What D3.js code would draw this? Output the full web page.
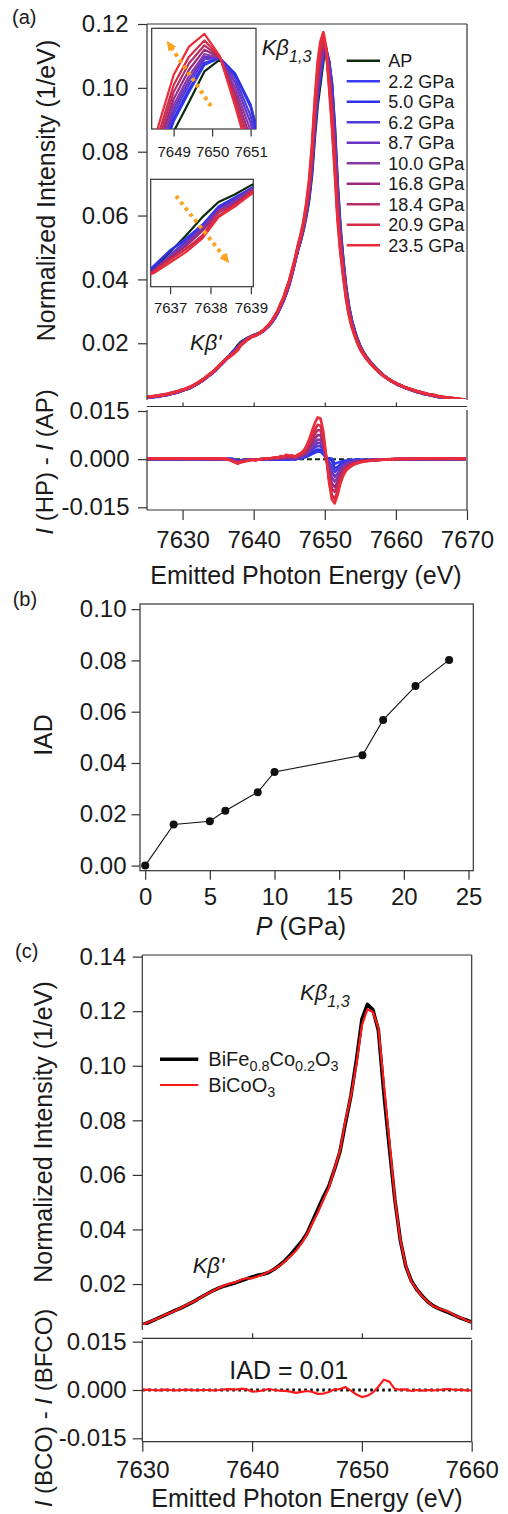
<!DOCTYPE html>
<html>
<head>
<meta charset="utf-8">
<script src="https://cdn.jsdelivr.net/npm/d3@7"></script>
<style>
  body { margin: 0; background: #fff; }
  svg { display: block; }
</style>
</head>
<body>
<script>
// ---------- (a) Co Kβ emission spectra under pressure ----------
const energyA = [
  7625.0,7625.4,7625.8,7626.2,7626.6,7627.0,7627.4,7627.8,7628.2,7628.6,
  7629.0,7629.4,7629.8,7630.2,7630.6,7631.0,7631.4,7631.8,7632.2,7632.6,
  7633.0,7633.4,7633.8,7634.2,7634.6,7635.0,7635.4,7635.8,7636.2,7636.6,
  7637.0,7637.4,7637.8,7638.2,7638.6,7639.0,7639.4,7639.8,7640.2,7640.6,
  7641.0,7641.4,7641.8,7642.2,7642.6,7643.0,7643.4,7643.8,7644.2,7644.6,
  7645.0,7645.4,7645.8,7646.2,7646.6,7647.0,7647.4,7647.8,7648.2,7648.6,
  7649.0,7649.4,7649.8,7650.2,7650.6,7651.0,7651.4,7651.8,7652.2,7652.6,
  7653.0,7653.4,7653.8,7654.2,7654.6,7655.0,7655.4,7655.8,7656.2,7656.6,
  7657.0,7657.4,7657.8,7658.2,7658.6,7659.0,7659.4,7659.8,7660.2,7660.6,
  7661.0,7661.4,7661.8,7662.2,7662.6,7663.0,7663.4,7663.8,7664.2,7664.6,
  7665.0,7665.4,7665.8,7666.2,7666.6,7667.0,7667.4,7667.8,7668.2,7668.6,
  7669.0,7669.4,7669.8
];

// ambient-pressure spectrum (1/eV)
const intensityAP = [
  0.0030,0.0031,0.0032,0.0033,0.0034,0.0036,0.0037,0.0039,0.0041,0.0043,
  0.0046,0.0048,0.0051,0.0054,0.0057,0.0061,0.0065,0.0070,0.0075,0.0081,
  0.0087,0.0094,0.0101,0.0108,0.0116,0.0125,0.0134,0.0143,0.0152,0.0160,
  0.0171,0.0182,0.0194,0.0204,0.0209,0.0215,0.0219,0.0223,0.0227,0.0230,
  0.0235,0.0240,0.0248,0.0257,0.0268,0.0281,0.0297,0.0315,0.0335,0.0358,
  0.0385,0.0418,0.0455,0.0490,0.0520,0.0555,0.0598,0.0650,0.0730,0.0850,
  0.0950,0.1018,0.1088,0.1115,0.1080,0.1010,0.0880,0.0700,0.0560,0.0460,
  0.0375,0.0315,0.0272,0.0240,0.0213,0.0190,0.0174,0.0160,0.0148,0.0137,
  0.0127,0.0118,0.0109,0.0101,0.0094,0.0088,0.0082,0.0077,0.0072,0.0068,
  0.0064,0.0060,0.0057,0.0054,0.0051,0.0048,0.0046,0.0043,0.0041,0.0039,
  0.0037,0.0035,0.0033,0.0032,0.0030,0.0029,0.0028,0.0027,0.0026,0.0025,
  0.0024,0.0023,0.0022
];

// I(HP) - I(AP) for each pressure, same energy grid
const dI_2_2 = [
  0.0000,-0.0001,-0.0001,0.0000,-0.0002,-0.0001,0.0000,-0.0001,-0.0001,0.0000,
  -0.0002,-0.0001,-0.0001,0.0000,-0.0001,-0.0002,-0.0001,0.0000,-0.0001,-0.0001,
  -0.0002,0.0000,-0.0001,-0.0002,-0.0001,-0.0001,-0.0002,-0.0001,
  0.0000,0.0002,0.0001,-0.0002,-0.0005,-0.0003,-0.0002,-0.0002,-0.0001,-0.0001,
  -0.0001,-0.0002,-0.0002,-0.0001,-0.0001,-0.0002,-0.0001,-0.0002,-0.0002,-0.0001,-0.0002,-0.0001,-0.0002,
  0.0000,-0.0002,0.0001,0.0002,0.0004,0.0007,0.0011,0.0016,0.0020,0.0023,0.0023,0.0015,0.0004,
  0.0003,0.0002,-0.0014,-0.0011,-0.0008,-0.0005,-0.0004,-0.0003,-0.0002,-0.0002,-0.0001,-0.0001,
  -0.0003,-0.0004,-0.0003,-0.0003,-0.0002,-0.0003,-0.0002,-0.0002,-0.0001,-0.0002,
  -0.0001,-0.0001,-0.0002,-0.0001,0.0000,-0.0001,-0.0001,0.0000,-0.0001,-0.0001,
  0.0000,-0.0001,0.0000,-0.0001,0.0000,0.0000,-0.0001,0.0000,0.0000,-0.0001,
  0.0000,0.0000,0.0000,-0.0001,0.0000,0.0000,0.0000
];
const dI_5_0 = [
  -0.0001,0.0000,-0.0001,0.0000,0.0000,-0.0001,0.0000,-0.0001,0.0000,0.0000,
  -0.0001,-0.0001,0.0000,0.0000,-0.0001,0.0000,-0.0001,0.0000,-0.0001,0.0000,
  0.0000,-0.0001,0.0000,-0.0001,-0.0002,-0.0001,0.0000,-0.0001,
  0.0000,0.0001,0.0001,-0.0003,-0.0006,-0.0004,-0.0003,-0.0002,-0.0001,-0.0001,
  -0.0001,-0.0001,-0.0002,-0.0001,0.0000,-0.0001,0.0000,0.0000,-0.0001,0.0001,0.0000,0.0001,0.0000,
  0.0001,0.0000,0.0002,0.0003,0.0006,0.0009,0.0014,0.0020,0.0026,0.0030,0.0029,0.0020,0.0004,
  0.0001,-0.0004,-0.0029,-0.0024,-0.0016,-0.0011,-0.0008,-0.0006,-0.0004,-0.0003,-0.0003,-0.0002,
  -0.0003,-0.0003,-0.0003,-0.0002,-0.0002,-0.0002,-0.0001,-0.0002,-0.0001,-0.0001,
  -0.0001,0.0000,-0.0001,0.0000,-0.0001,0.0000,0.0000,-0.0001,0.0000,0.0000,
  -0.0001,0.0000,0.0000,0.0000,-0.0001,0.0000,0.0000,-0.0001,0.0000,0.0000,
  0.0000,-0.0001,0.0000,0.0000,0.0000,0.0000,0.0000
];
const dI_6_2 = [
  0.0000,-0.0001,0.0000,0.0000,0.0001,0.0000,-0.0001,0.0000,0.0000,0.0000,
  -0.0001,0.0000,0.0001,0.0000,0.0000,-0.0001,0.0000,0.0000,0.0000,-0.0001,
  0.0000,0.0000,0.0001,0.0000,-0.0001,0.0000,0.0000,-0.0001,
  0.0000,-0.0001,-0.0002,-0.0004,-0.0006,-0.0005,-0.0003,-0.0002,-0.0002,-0.0001,
  -0.0001,-0.0001,-0.0001,0.0000,0.0000,0.0000,0.0001,0.0001,0.0000,0.0002,0.0001,0.0002,0.0002,
  0.0002,0.0001,0.0003,0.0005,0.0008,0.0013,0.0020,0.0028,0.0036,0.0041,0.0040,0.0028,0.0004,
  -0.0008,-0.0024,-0.0040,-0.0032,-0.0022,-0.0015,-0.0010,-0.0008,-0.0006,-0.0005,-0.0004,-0.0003,
  -0.0003,-0.0003,-0.0002,-0.0002,-0.0002,-0.0001,-0.0001,-0.0001,-0.0001,0.0000,
  -0.0001,0.0000,0.0000,-0.0001,0.0000,0.0000,0.0000,0.0001,0.0000,0.0000,
  0.0000,-0.0001,0.0000,0.0000,0.0001,0.0000,0.0000,0.0000,-0.0001,0.0000,
  0.0000,0.0000,0.0001,0.0000,0.0000,0.0000,0.0000
];
const dI_8_7 = [
  0.0000,0.0000,0.0001,0.0000,0.0000,0.0001,0.0000,0.0000,0.0000,0.0001,
  0.0000,0.0000,0.0000,0.0001,0.0000,0.0000,0.0001,0.0000,0.0000,0.0000,
  0.0001,0.0000,0.0000,0.0000,0.0001,0.0000,0.0000,-0.0001,
  -0.0001,-0.0001,-0.0003,-0.0005,-0.0007,-0.0005,-0.0004,-0.0003,-0.0002,-0.0001,
  -0.0002,-0.0001,-0.0001,0.0000,0.0001,0.0000,0.0001,0.0002,0.0001,0.0003,0.0002,0.0004,0.0003,
  0.0003,0.0002,0.0005,0.0007,0.0010,0.0016,0.0024,0.0034,0.0044,0.0051,0.0050,0.0034,0.0004,
  -0.0018,-0.0040,-0.0055,-0.0045,-0.0030,-0.0020,-0.0014,-0.0011,-0.0008,-0.0006,-0.0005,-0.0004,
  -0.0004,-0.0003,-0.0003,-0.0002,-0.0002,-0.0002,-0.0001,-0.0001,-0.0001,-0.0001,
  0.0000,-0.0001,0.0000,0.0000,0.0000,0.0001,0.0000,0.0000,0.0000,0.0001,
  0.0000,0.0000,0.0000,0.0001,0.0000,0.0000,0.0001,0.0000,0.0000,0.0000,
  0.0001,0.0000,0.0000,0.0000,0.0001,0.0000,0.0000
];
const dI_10_0 = [
  0.0000,0.0001,0.0000,0.0001,0.0001,0.0000,0.0000,0.0001,0.0000,0.0001,
  0.0000,0.0000,0.0001,0.0001,0.0000,0.0001,0.0000,0.0000,0.0001,0.0000,
  0.0001,0.0000,0.0000,0.0001,0.0000,0.0000,0.0001,0.0000,
  0.0000,-0.0001,-0.0003,-0.0006,-0.0008,-0.0006,-0.0005,-0.0003,-0.0002,-0.0001,
  -0.0002,-0.0001,0.0000,0.0000,0.0001,0.0001,0.0002,0.0002,0.0002,0.0004,0.0003,0.0005,0.0005,
  0.0005,0.0003,0.0006,0.0009,0.0012,0.0019,0.0029,0.0041,0.0053,0.0061,0.0060,0.0040,0.0004,
  -0.0030,-0.0058,-0.0070,-0.0057,-0.0039,-0.0026,-0.0018,-0.0014,-0.0011,-0.0008,-0.0007,-0.0005,
  -0.0004,-0.0004,-0.0003,-0.0003,-0.0002,-0.0002,-0.0002,-0.0001,-0.0001,-0.0001,
  -0.0001,0.0000,0.0000,0.0000,0.0001,0.0000,0.0000,0.0001,0.0000,0.0000,
  0.0001,0.0001,0.0000,0.0000,0.0001,0.0000,0.0000,0.0001,0.0000,0.0001,
  0.0000,0.0000,0.0001,0.0000,0.0000,0.0001,0.0000
];
const dI_16_8 = [
  0.0001,0.0000,0.0001,0.0001,0.0000,0.0002,0.0001,0.0000,0.0001,0.0001,
  0.0000,0.0001,0.0002,0.0000,0.0001,0.0001,0.0000,0.0001,0.0001,0.0000,
  0.0001,0.0002,0.0001,0.0000,0.0001,0.0000,0.0001,0.0000,
  0.0000,-0.0001,-0.0004,-0.0007,-0.0009,-0.0007,-0.0006,-0.0004,-0.0002,-0.0001,
  -0.0002,-0.0001,0.0000,0.0001,0.0002,0.0001,0.0002,0.0003,0.0003,0.0005,0.0004,0.0007,0.0006,
  0.0006,0.0004,0.0008,0.0011,0.0015,0.0023,0.0035,0.0051,0.0065,0.0075,0.0074,0.0050,0.0005,
  -0.0042,-0.0076,-0.0087,-0.0071,-0.0048,-0.0032,-0.0023,-0.0017,-0.0013,-0.0010,-0.0008,-0.0006,
  -0.0005,-0.0004,-0.0004,-0.0003,-0.0003,-0.0002,-0.0002,-0.0001,-0.0001,-0.0001,
  0.0000,0.0000,0.0000,0.0001,0.0000,0.0000,0.0001,0.0001,0.0000,0.0001,
  0.0001,0.0000,0.0001,0.0001,0.0000,0.0001,0.0001,0.0000,0.0001,0.0001,
  0.0000,0.0001,0.0001,0.0000,0.0001,0.0000,0.0001
];
const dI_18_4 = [
  0.0000,0.0001,0.0001,0.0002,0.0001,0.0001,0.0002,0.0001,0.0001,0.0002,
  0.0001,0.0001,0.0002,0.0001,0.0001,0.0000,0.0001,0.0002,0.0001,0.0001,
  0.0002,0.0001,0.0000,0.0001,0.0001,0.0002,0.0001,0.0000,
  0.0001,-0.0002,-0.0005,-0.0009,-0.0013,-0.0006,-0.0008,-0.0004,-0.0003,-0.0001,
  -0.0003,-0.0001,0.0000,0.0001,0.0002,0.0002,0.0003,0.0004,0.0004,0.0006,0.0006,0.0009,0.0008,
  0.0008,0.0005,0.0010,0.0013,0.0018,0.0028,0.0043,0.0062,0.0078,0.0091,0.0089,0.0060,0.0006,
  -0.0053,-0.0093,-0.0102,-0.0083,-0.0056,-0.0038,-0.0027,-0.0020,-0.0016,-0.0012,-0.0010,-0.0007,
  -0.0006,-0.0005,-0.0004,-0.0004,-0.0003,-0.0003,-0.0002,-0.0002,-0.0001,-0.0001,
  -0.0001,0.0000,0.0000,0.0001,0.0000,0.0001,0.0001,0.0000,0.0001,0.0001,
  0.0002,0.0001,0.0001,0.0000,0.0001,0.0002,0.0001,0.0001,0.0001,0.0000,
  0.0001,0.0002,0.0001,0.0001,0.0000,0.0001,0.0001
];
const dI_20_9 = [
  0.0001,0.0001,0.0002,0.0001,0.0002,0.0002,0.0001,0.0002,0.0001,0.0002,
  0.0003,0.0001,0.0002,0.0001,0.0002,0.0001,0.0002,0.0002,0.0001,0.0002,
  0.0001,0.0002,0.0001,0.0002,0.0001,0.0001,0.0002,0.0000,
  0.0000,-0.0002,-0.0005,-0.0009,-0.0012,-0.0009,-0.0007,-0.0005,-0.0004,-0.0002,
  -0.0003,-0.0002,0.0000,0.0001,0.0003,0.0002,0.0003,0.0005,0.0004,0.0008,0.0006,0.0011,0.0009,
  0.0010,0.0007,0.0011,0.0016,0.0021,0.0033,0.0050,0.0072,0.0092,0.0107,0.0104,0.0071,0.0007,
  -0.0064,-0.0112,-0.0123,-0.0100,-0.0068,-0.0045,-0.0032,-0.0024,-0.0019,-0.0014,-0.0012,-0.0009,
  -0.0007,-0.0006,-0.0005,-0.0004,-0.0004,-0.0003,-0.0002,-0.0002,-0.0001,-0.0001,
  0.0000,0.0000,0.0001,0.0000,0.0001,0.0001,0.0000,0.0001,0.0002,0.0001,
  0.0001,0.0002,0.0001,0.0001,0.0002,0.0001,0.0001,0.0002,0.0001,0.0001,
  0.0002,0.0001,0.0001,0.0002,0.0001,0.0001,0.0001
];
const dI_23_5 = [
  0.0001,0.0002,0.0001,0.0002,0.0003,0.0001,0.0002,0.0002,0.0003,0.0001,
  0.0002,0.0003,0.0002,0.0001,0.0003,0.0002,0.0002,0.0001,0.0003,0.0002,
  0.0001,0.0002,0.0003,0.0001,0.0002,0.0001,0.0002,0.0001,
  0.0001,-0.0003,-0.0007,-0.0011,-0.0014,-0.0010,-0.0008,-0.0006,-0.0004,-0.0002,
  -0.0004,-0.0002,0.0000,0.0002,0.0003,0.0002,0.0004,0.0006,0.0005,0.0010,0.0008,0.0014,0.0011,
  0.0012,0.0008,0.0014,0.0019,0.0026,0.0040,0.0061,0.0088,0.0112,0.0130,0.0127,0.0086,0.0008,
  -0.0072,-0.0126,-0.0138,-0.0112,-0.0076,-0.0051,-0.0036,-0.0027,-0.0021,-0.0016,-0.0013,-0.0010,
  -0.0008,-0.0007,-0.0006,-0.0005,-0.0004,-0.0003,-0.0003,-0.0002,-0.0002,-0.0001,
  -0.0001,0.0000,0.0000,0.0001,0.0000,0.0001,0.0001,0.0002,0.0001,0.0002,
  0.0001,0.0002,0.0002,0.0001,0.0002,0.0003,0.0002,0.0001,0.0002,0.0002,
  0.0001,0.0002,0.0001,0.0002,0.0002,0.0001,0.0002
];

const seriesLabels = ['AP','2.2 GPa','5.0 GPa','6.2 GPa','8.7 GPa','10.0 GPa','16.8 GPa','18.4 GPa','20.9 GPa','23.5 GPa'];
const seriesColors = ['#0c2b0c','#3a3cf2','#2f33e6','#4e3ada','#6a34c4','#873aa6','#992a7e','#b52e66','#d22c48','#ea2d3a'];
const ticksA = [0.02,0.04,0.06,0.08,0.10,0.12];
const ticksDiff = [0.015,0.000,-0.015];
const ticksEnergyA = [7630,7640,7650,7660,7670];
const ticksInset1 = [7649,7650,7651];
const ticksInset2 = [7637,7638,7639];

// ---------- (b) IAD vs pressure ----------
const pressure = [0, 2.2, 5.0, 6.2, 8.7, 10.0, 16.8, 18.4, 20.9, 23.5];
const iad = [0.0000, 0.0160, 0.0173, 0.0214, 0.0286, 0.0365, 0.0430, 0.0568, 0.0700, 0.0802];
const ticksIAD = [0.00,0.02,0.04,0.06,0.08,0.10];
const ticksP = [0,5,10,15,20,25];

// ---------- (c) BiFe0.8Co0.2O3 vs BiCoO3 ----------
const energyC = [
  7630.0,7630.5,7631.0,7631.5,7632.0,7632.5,7633.0,7633.5,7634.0,7634.5,
  7635.0,7635.5,7636.0,7636.5,7637.0,7637.5,7638.0,7638.5,7639.0,7639.5,
  7640.0,7640.5,7641.0,7641.5,7642.0,7642.5,7643.0,7643.5,7644.0,7644.5,
  7645.0,7645.5,7646.0,7646.5,7647.0,7647.5,7648.0,7648.5,7649.0,7649.5,
  7650.0,7650.5,7651.0,7651.5,7652.0,7652.5,7653.0,7653.5,7654.0,7654.5,
  7655.0,7655.5,7656.0,7656.5,7657.0,7657.5,7658.0,7658.5,7659.0,7659.5,
  7660.0
];
const intensityBFCO = [
  0.0050,0.0058,0.0067,0.0076,0.0085,0.0094,0.0103,0.0112,0.0122,0.0132,
  0.0143,0.0155,0.0166,0.0177,0.0186,0.0193,0.0199,0.0205,0.0212,0.0219,
  0.0226,0.0232,0.0236,0.0242,0.0254,0.0269,0.0286,0.0307,0.0331,0.0355,
  0.0385,0.0430,0.0475,0.0520,0.0560,0.0620,0.0685,0.0790,0.0890,0.1020,
  0.1170,0.1225,0.1205,0.1130,0.0900,0.0700,0.0510,0.0360,0.0265,0.0212,
  0.0180,0.0156,0.0135,0.0120,0.0110,0.0102,0.0093,0.0084,0.0075,0.0068,
  0.0061
];
// I(BCO) - I(BFCO)
const dI_BCO = [
  0.0000,0.0001,0.0000,-0.0001,0.0001,0.0000,-0.0001,0.0000,0.0001,0.0000,
  -0.0001,0.0000,0.0000,-0.0001,0.0000,0.0002,0.0003,0.0001,0.0004,0.0002,
  -0.0005,-0.0004,-0.0001,0.0003,0.0000,-0.0002,-0.0003,-0.0005,-0.0009,-0.0006,
  -0.0003,-0.0006,-0.0012,-0.0011,-0.0006,0.0002,0.0003,0.0009,-0.0002,-0.0014,
  -0.0022,-0.0018,-0.0008,0.0010,0.0032,0.0026,0.0003,0.0001,0.0002,-0.0003,
  0.0000,-0.0002,0.0000,-0.0001,0.0000,0.0002,0.0003,0.0000,0.0001,-0.0001,
  -0.0001
];
const ticksC = [0.02,0.04,0.06,0.08,0.10,0.12,0.14];
const ticksEnergyC = [7630,7640,7650,7660];

// ================= drawing =================
const FONT = "'Liberation Sans', Arial, Helvetica, sans-serif";
const INK = '#1a1a1a';
const AXIS = '#333333';

const svg = d3.select('body').append('svg')
  .attr('width', 508).attr('height', 1514)
  .style('font-family', FONT);

const defs = svg.append('defs');
function clip(id, x, y, w, h) {
  defs.append('clipPath').attr('id', id)
    .append('rect').attr('x', x).attr('y', y).attr('width', w).attr('height', h);
  return `url(#${id})`;
}
function seg(x1, y1, x2, y2, w = 1.2) {
  svg.append('line').attr('x1', x1).attr('y1', y1).attr('x2', x2).attr('y2', y2)
    .attr('stroke', AXIS).attr('stroke-width', w);
}
function dressAxis(g, fs) {
  g.select('.domain').remove();
  g.selectAll('.tick line').attr('stroke', AXIS).attr('stroke-width', 1.2);
  g.selectAll('.tick text').attr('fill', INK)
    .style('font-size', fs + 'px').style('font-family', FONT);
  return g;
}
const hyphenFmt = f => d => d3.format(f)(d).replace('\u2212', '-');

function label(x, y, txt, fs, opts = {}) {
  const t = svg.append('text').attr('x', x).attr('y', y)
    .attr('fill', INK).style('font-size', fs + 'px')
    .attr('text-anchor', opts.anchor || 'start');
  if (opts.rotate) t.attr('transform', `rotate(-90,${x},${y})`);
  if (opts.italic) t.style('font-style', 'italic');
  t.text(txt);
  return t;
}
// text built from [string, italic?] parts
function richLabel(x, y, parts, fs, opts = {}) {
  const t = svg.append('text').attr('x', x).attr('y', y)
    .attr('fill', INK).style('font-size', fs + 'px')
    .attr('text-anchor', opts.anchor || 'start');
  if (opts.rotate) t.attr('transform', `rotate(-90,${x},${y})`);
  parts.forEach(([s, it]) => {
    const sp = t.append('tspan').text(s);
    if (it) sp.style('font-style', 'italic');
  });
  return t;
}
function kbeta(x, y, sub, fs) {
  const t = svg.append('text').attr('x', x).attr('y', y)
    .attr('fill', INK).style('font-size', fs + 'px').style('font-style', 'italic');
  if (sub) {
    t.append('tspan').text('K\u03B2');
    t.append('tspan').attr('dy', 6.5).style('font-size', (fs * 0.74) + 'px').text(sub);
  } else {
    t.text("K\u03B2'");
  }
}

// ---------------- panel (a) ----------------
const xA = d3.scaleLinear().domain([7625, 7670]).range([147, 467]);
const yA = d3.scaleLinear().domain([0.00254, 0.12]).range([399, 24]);
const yAd = d3.scaleLinear().domain([-0.015, 0.015]).range([507.3, 411]);

const diffsA = [intensityAP.map(v => v - v), dI_2_2, dI_5_0, dI_6_2, dI_8_7, dI_10_0,
                dI_16_8, dI_18_4, dI_20_9, dI_23_5];
const spectraA = diffsA.map(d => energyA.map((e, j) => [e, intensityAP[j] + d[j]]));
const diffPtsA = diffsA.map(d => energyA.map((e, j) => [e, d[j]]));

const clipA = clip('clipA', 147, 24, 320, 375);
const clipAd = clip('clipAd', 147, 409, 320, 101);

const lineA = d3.line().x(d => xA(d[0])).y(d => yA(d[1]));
const gA = svg.append('g').attr('clip-path', clipA);
spectraA.forEach((s, k) => {
  gA.append('path').attr('d', lineA(s)).attr('fill', 'none')
    .attr('stroke', seriesColors[k]).attr('stroke-width', 2.9)
    .attr('stroke-linejoin', 'round');
});

// frame of upper plot
seg(147, 24, 147, 400);
seg(147, 24, 467, 24);
seg(467, 24, 467, 400);
dressAxis(svg.append('g').attr('transform', 'translate(147,0)')
  .call(d3.axisLeft(yA).tickValues(ticksA).tickFormat(d3.format('.2f'))
    .tickSize(9).tickPadding(9.5)), 24);

// difference plot
const lineAd = d3.line().x(d => xA(d[0])).y(d => yAd(d[1]));
const gAd = svg.append('g').attr('clip-path', clipAd);
diffPtsA.forEach((s, k) => {
  const p = gAd.append('path').attr('d', lineAd(s)).attr('fill', 'none')
    .attr('stroke', seriesColors[k]).attr('stroke-width', k === 0 ? 2 : 2.6)
    .attr('stroke-linejoin', 'round');
  if (k === 0) p.attr('stroke-dasharray', '5,3');
});
seg(147, 406.5, 467, 406.5);
dressAxis(svg.append('g').attr('transform', 'translate(0,406.5)')
  .call(d3.axisTop(xA).tickValues([7630, 7640, 7650, 7660]).tickSize(4).tickFormat('')), 24);
seg(147, 410, 147, 510);
seg(467, 410, 467, 510);
seg(147, 510, 467, 510);
dressAxis(svg.append('g').attr('transform', 'translate(147,0)')
  .call(d3.axisLeft(yAd).tickValues(ticksDiff).tickFormat(hyphenFmt('.3f'))
    .tickSize(9).tickPadding(8.5)), 24);
dressAxis(svg.append('g').attr('transform', 'translate(0,510)')
  .call(d3.axisBottom(xA).tickValues(ticksEnergyA).tickFormat(d3.format('d'))
    .tickSize(10).tickPadding(11)), 24);

// insets
function inset(id, xs, ys, ticks, tickPad) {
  const [x0, x1] = xs.range(), [y1, y0] = ys.range();
  svg.append('rect').attr('x', x0).attr('y', y0).attr('width', x1 - x0).attr('height', y1 - y0)
    .attr('fill', '#fff').attr('stroke', AXIS).attr('stroke-width', 1.2);
  const g = svg.append('g').attr('clip-path', clip(id, x0, y0, x1 - x0, y1 - y0));
  const ln = d3.line().x(d => xs(d[0])).y(d => ys(d[1]));
  spectraA.forEach((s, k) => {
    g.append('path').attr('d', ln(s)).attr('fill', 'none')
      .attr('stroke', seriesColors[k]).attr('stroke-width', 2.2)
      .attr('stroke-linejoin', 'round');
  });
  dressAxis(svg.append('g').attr('transform', `translate(0,${y1 + 0.5})`)
    .call(d3.axisBottom(xs).tickValues(ticks).tickFormat(d3.format('d'))
      .tickSize(7).tickPadding(tickPad)), 15);
}
const xI1 = d3.scaleLinear().domain([7648.43, 7651.14]).range([151.7, 256]);
const yI1 = d3.scaleLinear().domain([0.0956, 0.1187]).range([129, 28.3]);
const xI2 = d3.scaleLinear().domain([7636.52, 7639.06]).range([150.7, 253.3]);
const yI2 = d3.scaleLinear().domain([0.0148, 0.0219]).range([286.7, 179.3]);
inset('clipI1', xI1, yI1, ticksInset1, 9.5);
inset('clipI2', xI2, yI2, ticksInset2, 8.5);

// pressure-trend arrows
function trendArrow(x1, y1, x2, y2) {
  const ang = Math.atan2(y2 - y1, x2 - x1), L = 10, Wd = 4.5;
  const bx = x2 - L * Math.cos(ang), by = y2 - L * Math.sin(ang);
  svg.append('line').attr('x1', x1).attr('y1', y1).attr('x2', bx).attr('y2', by)
    .attr('stroke', '#fca21c').attr('stroke-width', 4).attr('stroke-dasharray', '3.5,4');
  const px = -Math.sin(ang) * Wd, py = Math.cos(ang) * Wd;
  svg.append('path')
    .attr('d', `M${x2},${y2}L${bx + px},${by + py}L${bx - px},${by - py}Z`)
    .attr('fill', '#fca21c');
}
trendArrow(211, 106, 166.7, 40.7);
trendArrow(176, 196, 229.3, 263.3);

// legend
seriesLabels.forEach((lab, k) => {
  const y = 60.7 + k * 20.5;
  svg.append('line').attr('x1', 346.7).attr('x2', 380).attr('y1', y).attr('y2', y)
    .attr('stroke', seriesColors[k]).attr('stroke-width', 2.6);
  label(388.3, y + 6.5, lab, 18);
});

kbeta(261.7, 55, '1,3', 22);
kbeta(190, 350, null, 22);
label(12, 24, '(a)', 20);
label(55, 190.5, 'Normalized Intensity (1/eV)', 25, { rotate: true, anchor: 'middle' });
richLabel(53, 462, [['I', true], [' (HP) - ', false], ['I', true], [' (AP)', false]], 24,
  { rotate: true, anchor: 'middle' });
label(306, 584, 'Emitted Photon Energy (eV)', 25, { anchor: 'middle' });

// ---------------- panel (b) ----------------
const xB = d3.scaleLinear().domain([-0.4, 25.37]).range([140, 473.3]);
const yB = d3.scaleLinear().domain([-0.002, 0.102]).range([870.7, 604]);
svg.append('rect').attr('x', 140).attr('y', 604).attr('width', 333.3).attr('height', 266.7)
  .attr('fill', 'none').attr('stroke', AXIS).attr('stroke-width', 1.2);
dressAxis(svg.append('g').attr('transform', 'translate(140,0)')
  .call(d3.axisLeft(yB).tickValues(ticksIAD).tickFormat(d3.format('.2f'))
    .tickSize(8.5).tickPadding(5)), 24);
dressAxis(svg.append('g').attr('transform', 'translate(0,870.7)')
  .call(d3.axisBottom(xB).tickValues(ticksP).tickFormat(d3.format('d'))
    .tickSize(9).tickPadding(8.5)), 24);
const ptsB = pressure.map((p, i) => [p, iad[i]]);
svg.append('path')
  .attr('d', d3.line().x(d => xB(d[0])).y(d => yB(d[1]))(ptsB))
  .attr('fill', 'none').attr('stroke', '#111').attr('stroke-width', 1.1);
svg.append('g').selectAll('circle').data(ptsB).join('circle')
  .attr('cx', d => xB(d[0])).attr('cy', d => yB(d[1])).attr('r', 4)
  .attr('fill', '#111');
label(12.7, 606, '(b)', 20);
label(52, 735, 'IAD', 25, { rotate: true, anchor: 'middle' });
richLabel(301, 935, [['P', true], [' (GPa)', false]], 25, { anchor: 'middle' });

// ---------------- panel (c) ----------------
const xC = d3.scaleLinear().domain([7630, 7660]).range([142.3, 471.7]);
const yC = d3.scaleLinear().domain([0.0056, 0.1406]).range([1323.3, 955]);
const yCd = d3.scaleLinear().domain([-0.015, 0.015]).range([1438.3, 1341.7]);
const clipC = clip('clipC', 142.3, 955, 329.4, 370);
const clipCd = clip('clipCd', 142.3, 1340, 329.4, 101.7);

const specBFCO = energyC.map((e, j) => [e, intensityBFCO[j]]);
const specBCO = energyC.map((e, j) => [e, intensityBFCO[j] + dI_BCO[j]]);
const zeroC = energyC.map((e, j) => [e, intensityBFCO[j] - intensityBFCO[j]]);
const diffC = energyC.map((e, j) => [e, dI_BCO[j]]);

const lineC = d3.line().x(d => xC(d[0])).y(d => yC(d[1]));
const gC = svg.append('g').attr('clip-path', clipC);
gC.append('path').attr('d', lineC(specBFCO)).attr('fill', 'none')
  .attr('stroke', '#000').attr('stroke-width', 3.6).attr('stroke-linejoin', 'round');
gC.append('path').attr('d', lineC(specBCO)).attr('fill', 'none')
  .attr('stroke', '#ff1a1a').attr('stroke-width', 2.2).attr('stroke-linejoin', 'round');

seg(142.3, 955, 142.3, 1330);
seg(142.3, 955, 471.7, 955);
seg(471.7, 955, 471.7, 1330);
dressAxis(svg.append('g').attr('transform', 'translate(142.3,0)')
  .call(d3.axisLeft(yC).tickValues(ticksC).tickFormat(d3.format('.2f'))
    .tickSize(9.6).tickPadding(6.5)), 24);

const lineCd = d3.line().x(d => xC(d[0])).y(d => yCd(d[1]));
const gCd = svg.append('g').attr('clip-path', clipCd);
gCd.append('path').attr('d', lineCd(zeroC)).attr('fill', 'none')
  .attr('stroke', '#000').attr('stroke-width', 3).attr('stroke-dasharray', '2.5,3.5');
gCd.append('path').attr('d', lineCd(diffC)).attr('fill', 'none')
  .attr('stroke', '#ff1a1a').attr('stroke-width', 2.2).attr('stroke-linejoin', 'round');

seg(142.3, 1338.3, 471.7, 1338.3);
dressAxis(svg.append('g').attr('transform', 'translate(0,1338.3)')
  .call(d3.axisTop(xC).tickValues([7640, 7650]).tickSize(5).tickFormat('')), 24);
seg(142.3, 1340, 142.3, 1441.7);
seg(471.7, 1340, 471.7, 1441.7);
seg(142.3, 1441.7, 471.7, 1441.7);
dressAxis(svg.append('g').attr('transform', 'translate(142.3,0)')
  .call(d3.axisLeft(yCd).tickValues(ticksDiff).tickFormat(hyphenFmt('.3f'))
    .tickSize(9.6).tickPadding(6)), 24);
dressAxis(svg.append('g').attr('transform', 'translate(0,1441.7)')
  .call(d3.axisBottom(xC).tickValues(ticksEnergyC).tickFormat(d3.format('d'))
    .tickSize(10).tickPadding(9.3)), 24);

// legend (c)
svg.append('line').attr('x1', 160).attr('x2', 198.3).attr('y1', 1059.3).attr('y2', 1059.3)
  .attr('stroke', '#000').attr('stroke-width', 3.6);
svg.append('line').attr('x1', 160).attr('x2', 198.3).attr('y1', 1085).attr('y2', 1085)
  .attr('stroke', '#ff1a1a').attr('stroke-width', 2.2);
function formula(x, y, parts, fs) {
  const t = svg.append('text').attr('x', x).attr('y', y).attr('fill', INK).style('font-size', fs + 'px');
  let shifted = false;
  parts.forEach(([s, sub]) => {
    const sp = t.append('tspan').text(s);
    if (sub && !shifted) { sp.attr('dy', 5).style('font-size', (fs * 0.72) + 'px'); shifted = true; }
    else if (sub) { sp.style('font-size', (fs * 0.72) + 'px'); }
    else if (!sub && shifted) { sp.attr('dy', -5); shifted = false; }
  });
}
formula(208.3, 1065.5, [['BiFe', false], ['0.8', true], ['Co', false], ['0.2', true], ['O', false], ['3', true]], 20);
formula(208.3, 1091.7, [['BiCoO', false], ['3', true]], 20);

kbeta(300, 1000, '1,3', 22);
kbeta(192.7, 1273, null, 22);
label(229.3, 1379, 'IAD = 0.01', 25);
label(15, 958, '(c)', 20);
label(52, 1132, 'Normalized Intensity (1/eV)', 25, { rotate: true, anchor: 'middle' });
richLabel(52, 1408, [['I', true], [' (BCO) - ', false], ['I', true], [' (BFCO)', false]], 24,
  { rotate: true, anchor: 'middle' });
label(307, 1507, 'Emitted Photon Energy (eV)', 25, { anchor: 'middle' });
</script>
</body>
</html>
